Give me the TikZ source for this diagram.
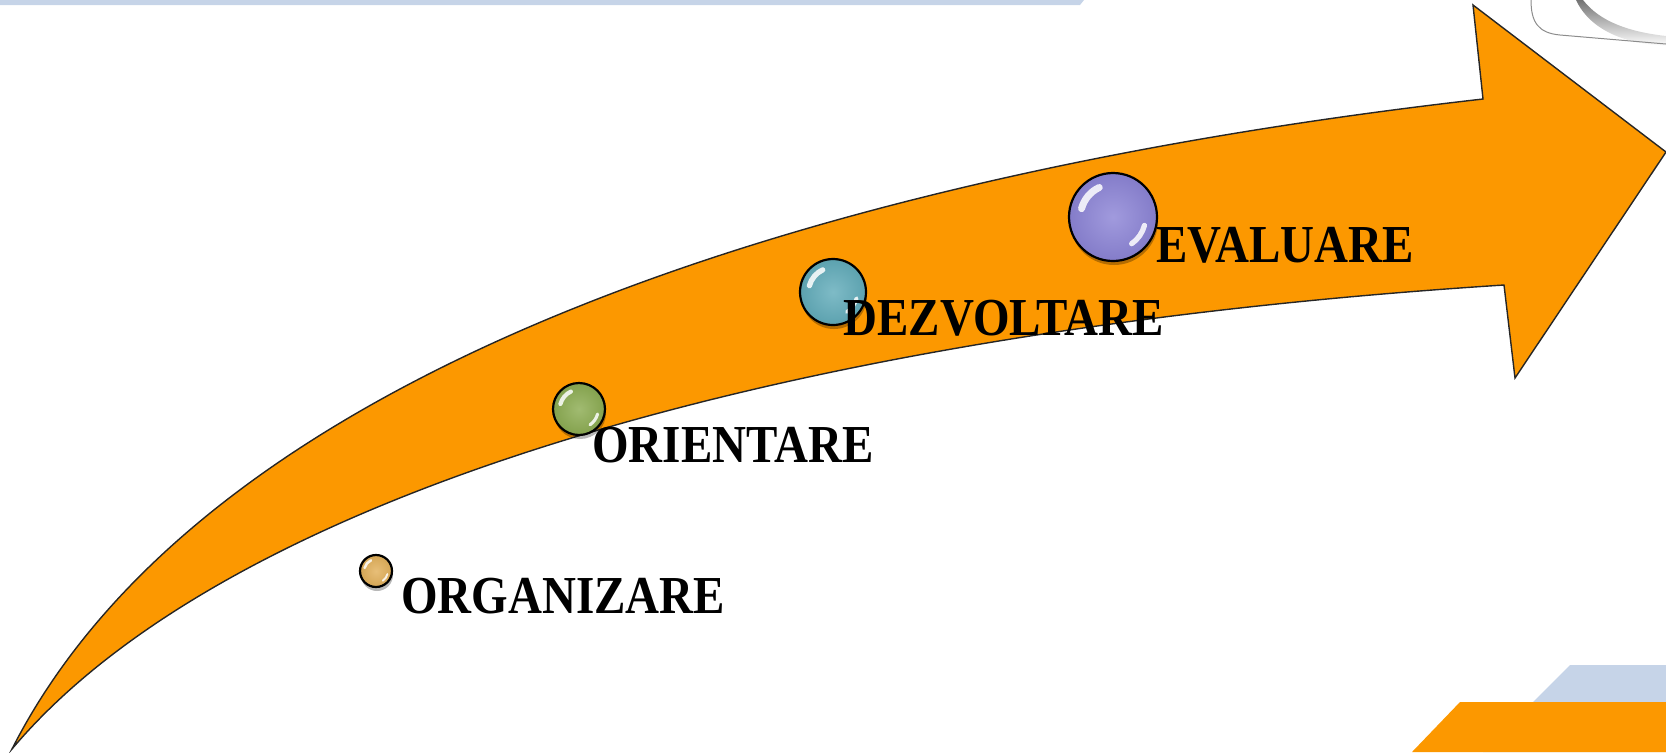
\documentclass[tikz,border=0pt]{standalone}
\usepackage{fontspec}
\newfontfamily\lblfont{Liberation Serif}[FakeStretch=0.88]
\definecolor{arroworange}{RGB}{252,152,0}
\definecolor{barblue}{RGB}{198,212,232}
\definecolor{bgold}{RGB}{226,176,90}
\definecolor{bolive}{RGB}{140,172,82}
\definecolor{bteal}{RGB}{98,172,186}
\definecolor{blav}{RGB}{140,132,214}
\tikzset{
  arrowbody/.style={fill=arroworange, draw=black!85, line width=0.7pt, line join=miter},
  bubble/.style={circle, draw=black, line width=1.1pt, inner sep=0pt},
  lbl/.style={font=\lblfont\bfseries\fontsize{26.7}{30}\selectfont, anchor=base west, inner sep=0pt, text=black},
  hl/.style={white, line cap=round, opacity=0.85}
}
% name, x, y, radius(px), colour
\newcommand{\mybubble}[5]{%
  \fill[black, opacity=0.28] (#2+1,#3+4) circle[radius=#4];
  \node[bubble, minimum size=#4pt, shading=radial, inner color=#5!82!white, outer color=#5!94!black] (#1) at (#2,#3) {};
  \begin{scope}[shift={(#1.center)}, x=1pt, y=1pt]
    \draw[hl, line width=0.08*#4pt] (115:0.37*#4) arc[start angle=115, end angle=165, radius=0.37*#4];
    \draw[hl, line width=0.06*#4pt] (-15:0.37*#4) arc[start angle=-15, end angle=-55, radius=0.37*#4];
  \end{scope}
}
\begin{document}
\begin{tikzpicture}[x=0.5pt, y=-0.5pt]
\useasboundingbox (0,0) rectangle (1666,752);
% decorative bars
\fill[barblue] (0,0) -- (1084,0) -- (1080,5) -- (0,5) -- cycle;
\fill[barblue] (1570,665) -- (1666,665) -- (1666,752) -- (1483,752) -- cycle;
\fill[arroworange] (1460,702) -- (1666,702) -- (1666,752) -- (1412,752) -- cycle;
% top-right object (partial)
\shade[top color=black!55, bottom color=white] (1583,0) .. controls (1600,22) and (1630,32) .. (1666,36) -- (1666,46) .. controls (1625,44) and (1590,30) .. (1576,0) -- cycle;
\draw[black!45, line width=0.5pt] (1531,0) .. controls (1531,22) and (1538,33) .. (1560,35) -- (1666,44);
% main curved arrow
\draw[arrowbody] (12,749) .. controls (220,340) and (900,165) .. (1483,99)
   -- (1473,5) -- (1666,152) -- (1515,378) -- (1504,285)
   .. controls (800,330) and (230,490) .. (12,749) -- cycle;
% bubbles
\mybubble{b1}{376}{571}{16}{bgold}
\mybubble{b2}{579}{409}{26}{bolive}
\mybubble{b3}{833}{292}{33}{bteal}
\mybubble{b4}{1113}{217}{44}{blav}
% labels
\node[lbl] (t1) at (401,613) {ORGANIZARE};
\node[lbl] (t2) at (592,462) {ORIENTARE};
\node[lbl] (t3) at (843,335) {DEZVOLTARE};
\node[lbl] (t4) at (1156,262) {EVALUARE};
\end{tikzpicture}
\end{document}
